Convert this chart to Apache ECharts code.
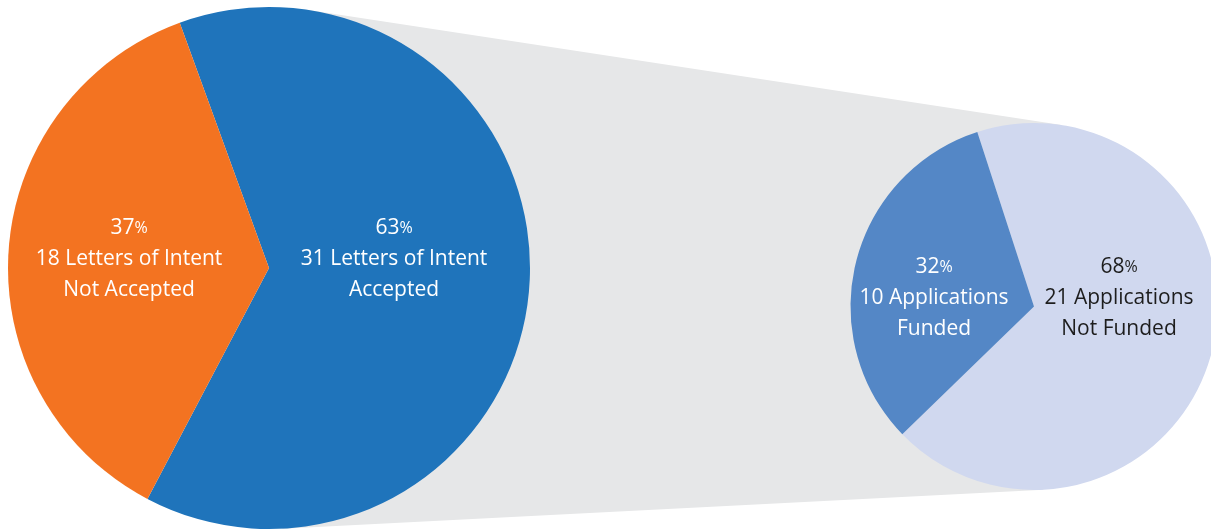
<!DOCTYPE html>
<html>
<head>
<meta charset="utf-8">
<script src="https://cdn.jsdelivr.net/npm/echarts@6/dist/echarts.min.js"></script>
<style>
  html, body { margin: 0; padding: 0; background: #fff; }
  #main { width: 1211px; height: 532px; }
</style>
</head>
<body>
<div id="main"></div>
<script>
// data
var lettersNames = ['31 Letters of Intent\nAccepted', '18 Letters of Intent\nNot Accepted'];
var lettersValues = [31, 18];
var appsNames = ['21 Applications\nNot Funded', '10 Applications\nFunded'];
var appsValues = [21, 10];

var lettersColors = ['#1F74BB', '#F37321'];
var appsColors = ['#D0D8EF', '#5487C6'];
var appsTextColors = ['#1d1d1d', '#ffffff'];

// layout (px)
var leftPie = { x: 269, y: 268, r: 261 };
var rightPie = { x: 1034, y: 306.5, r: 183.5 };
var leftLabelPos = [[394, 259], [129, 259]];
var rightLabelPos = [[1119, 298], [934, 298]];

// gray band = outer tangents of the two circles
function tangentBand(a, b) {
  var dx = b.x - a.x, dy = b.y - a.y;
  var d = Math.sqrt(dx * dx + dy * dy);
  var th = Math.atan2(dy, dx);
  var phi = Math.acos((a.r - b.r) / d);
  var pts = [];
  [th - phi, th + phi].forEach(function (ang) {
    pts.push([[a.x + a.r * Math.cos(ang), a.y + a.r * Math.sin(ang)],
              [b.x + b.r * Math.cos(ang), b.y + b.r * Math.sin(ang)]]);
  });
  return [pts[0][0], pts[0][1], pts[1][1], pts[1][0]];
}

function makeData(names, values, colors, textColors) {
  return values.map(function (v, i) {
    return {
      name: names[i],
      value: v,
      itemStyle: { color: colors[i] },
      label: { color: textColors ? textColors[i] : '#fff' }
    };
  });
}

function labelFmt(p) {
  var lines = p.name.split('\n');
  return '{n|' + Math.round(p.percent) + '}{s|%}\n{t|' + lines[0] + '}\n{t|' + lines[1] + '}';
}

var richStyle = {
  n: { fontSize: 21, lineHeight: 31, fontFamily: 'Open Sans' },
  s: { fontSize: 16, lineHeight: 31, fontFamily: 'Open Sans' },
  t: { fontSize: 21, lineHeight: 31, fontFamily: 'Open Sans' }
};

var myChart = echarts.init(document.getElementById('main'));

var option = {
  backgroundColor: '#fff',
  animation: false,
  graphic: [{
    type: 'polygon',
    z: 0,
    shape: { points: tangentBand(leftPie, rightPie) },
    style: { fill: '#E6E7E8' }
  }],
  series: [
    {
      type: 'pie',
      z: 2,
      center: [leftPie.x, leftPie.y],
      radius: [0, leftPie.r],
      startAngle: 110,
      clockwise: true,
      silent: true,
      label: {
        position: 'inside',
        formatter: labelFmt,
        rich: richStyle,
        align: 'center'
      },
      labelLine: { show: false },
      labelLayout: function (p) {
        return { x: leftLabelPos[p.dataIndex][0], y: leftLabelPos[p.dataIndex][1], align: 'center', verticalAlign: 'middle' };
      },
      data: makeData(lettersNames, lettersValues, lettersColors)
    },
    {
      type: 'pie',
      z: 2,
      center: [rightPie.x, rightPie.y],
      radius: [0, rightPie.r],
      startAngle: 108,
      clockwise: true,
      silent: true,
      label: {
        position: 'inside',
        formatter: labelFmt,
        rich: richStyle,
        align: 'center'
      },
      labelLine: { show: false },
      labelLayout: function (p) {
        return { x: rightLabelPos[p.dataIndex][0], y: rightLabelPos[p.dataIndex][1], align: 'center', verticalAlign: 'middle' };
      },
      data: makeData(appsNames, appsValues, appsColors, appsTextColors)
    }
  ]
};

myChart.setOption(option);
</script>
</body>
</html>
